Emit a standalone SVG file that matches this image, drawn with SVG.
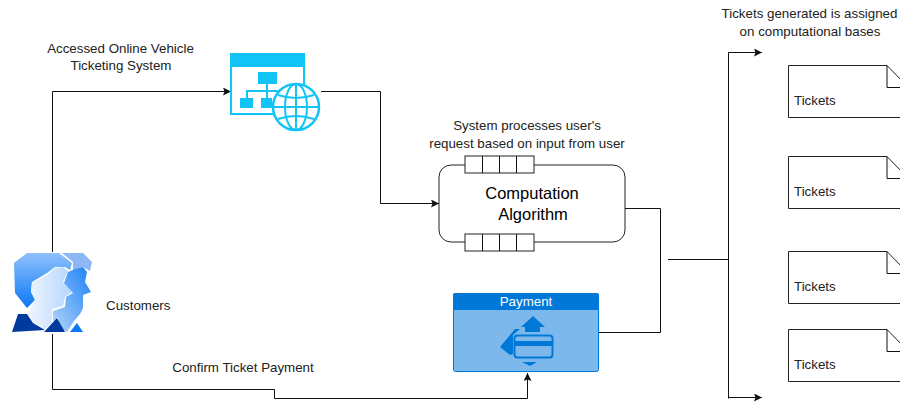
<svg xmlns="http://www.w3.org/2000/svg" width="900" height="402" viewBox="0 0 900 402">
<defs>
<marker id="arr" markerUnits="userSpaceOnUse" markerWidth="9" markerHeight="8" refX="8" refY="4" orient="auto"><path d="M0 0L8 4L0 8L1.500 4Z" fill="#111"/></marker>
<linearGradient id="g1" x1="0" y1="0" x2="0" y2="1"><stop offset="0" stop-color="#8fc1fb"/><stop offset="1" stop-color="#0a78f5"/></linearGradient>
<linearGradient id="g2" x1="0" y1="0" x2="1" y2="0"><stop offset="0" stop-color="#eef5ff"/><stop offset="1" stop-color="#b5d6fc"/></linearGradient>
<linearGradient id="g3" x1="1" y1="0" x2="0" y2="1"><stop offset="0" stop-color="#1a80f5"/><stop offset="1" stop-color="#b5d6fc"/></linearGradient>
</defs>
<style>
text{font-family:"Liberation Sans",Arial,sans-serif;font-size:13.33px;fill:#222}
.c{fill:none;stroke:#111;stroke-width:1}
.n{fill:#fff;stroke:#222;stroke-width:1}
.m{text-anchor:middle}
.ic{fill:none;stroke:#12c4f5;stroke-width:2}
.icf{fill:#12c4f5}
.pd{fill:#0078d7}
</style>
<g id="connectors">
<path class="c" d="M52.500 252V91.500H231" marker-end="url(#arr)"/>
<path class="c" d="M321 91.500H380.500V203.500H439" marker-end="url(#arr)"/>
<path class="c" d="M52.500 334V389.500H274.500V398.500H527.500V373" marker-end="url(#arr)"/>
<path class="c" d="M625 208.500H660.500V332.500H599"/>
<path class="c" d="M668 259.500H728.500"/>
<path class="c" d="M728.500 398.500V52.500H762" marker-end="url(#arr)"/>
<path class="c" d="M728.500 397.500H762" marker-end="url(#arr)"/>
</g>
<g id="customers">
<path d="M27 253L59 253L72 263L70 270L65 267L55 267L47 273L32 282L31 292L35 300L27 308L15 293L14 263Z" fill="url(#g1)"/>
<path d="M62 253L83 253L92 262L90 271L83 267L73 270L73 262Z" fill="#8db8f5"/>
<path d="M32 283L47 275L55 268L63 267L68 271L63 282L72 292L65 297L63 306L52 309L52 323L45 329L33 322L28 314L35 300L31 290Z" fill="url(#g2)"/>
<path d="M75 269L83 267L87 272L85 282L91 292L83 295L83 308L80 314L74 321L67 332L60 328L58 317L53 322L53 311L65 307L66 297L73 293L64 283L68 272Z" fill="url(#g3)"/>
<path d="M18 314L27 314L33 323L45 330L12 332Z" fill="#003a9e"/>
<path d="M44 332L57 318L65 332Z" fill="#003a9e"/>
<path d="M70 332L77 323L83 332Z" fill="#0a78f5"/>
<text x="106" y="310">Customers</text>
</g>
<g id="system">
<rect class="ic" x="231" y="54" width="73" height="60"/>
<rect class="icf" x="230" y="53" width="75" height="14"/>
<rect class="icf" x="258" y="72" width="19" height="12"/>
<rect class="icf" x="240" y="98" width="13" height="10"/>
<rect class="icf" x="261" y="98" width="11" height="10"/>
<path d="M247 98V91H282M267 84V98" fill="none" stroke="#12c4f5" stroke-width="2"/>
<circle cx="296" cy="107" r="23" fill="#fff" stroke="#12c4f5" stroke-width="2.500"/>
<ellipse cx="296" cy="107" rx="11" ry="23" class="ic"/>
<path class="ic" d="M296 84V130M273 107H319M278 95Q296 101 314 95M278 119Q296 113 314 119"/>
<text class="m" x="120.500" y="53">Accessed Online Vehicle</text>
<text class="m" x="121" y="70">Ticketing System</text>
</g>
<g id="computation">
<rect class="n" x="439" y="165" width="186" height="77" rx="12"/>
<rect class="n" x="465" y="156" width="69" height="17"/>
<path class="c" d="M482.500 156V173M499.500 156V173M516.500 156V173"/>
<rect class="n" x="465" y="234" width="69" height="17"/>
<path class="c" d="M482.500 234V251M499.500 234V251M516.500 234V251"/>
<text class="m" x="532" y="199" style="font-size:16.500px;fill:#000">Computation</text>
<text class="m" x="533" y="220" style="font-size:16.500px;fill:#000">Algorithm</text>
<text class="m" x="527" y="130">System processes user's</text>
<text class="m" x="527" y="148">request based on input from user</text>
</g>
<g id="payment">
<rect x="453.500" y="293.500" width="145" height="78" rx="2" fill="#7db8ec" stroke="#0078d7"/>
<path class="pd" d="M453 295a2 2 0 0 1 2-2H597a2 2 0 0 1 2 2V310H453Z"/>
<text class="m" x="526" y="306" style="fill:#fff">Payment</text>
<path class="pd" d="M533 316L545 327H540V332H525V327H521Z"/>
<path class="pd" d="M515 329L500 347L510 355L513 354V335L520 329Z"/>
<path class="pd" d="M522 362H537L530 366Z"/>
<rect x="514.500" y="335.500" width="38" height="22" rx="3" fill="#7db8ec" stroke="#0078d7" stroke-width="2"/>
<rect class="pd" x="514" y="341" width="39" height="5"/>
<text class="m" x="243" y="372">Confirm Ticket Payment</text>
</g>
<g id="ticket1">
<path class="n" d="M788.500 65.500H887L905 84V117.500H788.500Z"/>
<path class="c" d="M887 65.500V87.500H905"/>
<text x="794" y="105">Tickets</text>
</g>
<g id="ticket2">
<path class="n" d="M788.500 156.500H887L905 175V208.500H788.500Z"/>
<path class="c" d="M887 156.500V178.500H905"/>
<text x="794" y="196">Tickets</text>
</g>
<g id="ticket3">
<path class="n" d="M788.500 251.500H887L905 270V303.500H788.500Z"/>
<path class="c" d="M887 251.500V273.500H905"/>
<text x="794" y="291">Tickets</text>
</g>
<g id="ticket4">
<path class="n" d="M788.500 329.500H887L905 348V381.500H788.500Z"/>
<path class="c" d="M887 329.500V351.500H905"/>
<text x="794" y="369">Tickets</text>
</g>
<text class="m" x="809.500" y="18">Tickets generated is assigned</text>
<text class="m" x="810" y="36">on computational bases</text>
</svg>
